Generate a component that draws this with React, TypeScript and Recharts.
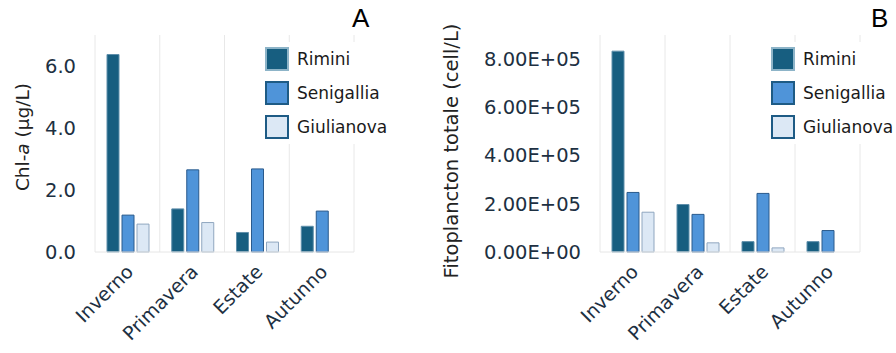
import { Bar, BarChart, CartesianGrid, XAxis, YAxis } from 'recharts';

const seasons = ['Inverno', 'Primavera', 'Estate', 'Autunno'];
const sites = ['Rimini', 'Senigallia', 'Giulianova'];

// Chl-a (µg/L), one array per site, in season order
const chlRimini = [6.37, 1.39, 0.63, 0.83];
const chlSenigallia = [1.19, 2.65, 2.68, 1.32];
const chlGiulianova = [0.9, 0.95, 0.32, null];

// total phytoplankton (cell/L)
const fitoRimini = [833000, 197000, 43000, 43000];
const fitoSenigallia = [247000, 156000, 243000, 89000];
const fitoGiulianova = [165000, 38000, 17000, null];

const chlTicks = [0, 2, 4, 6];
const fitoTicks = [0, 200000, 400000, 600000, 800000];

const FONT = '"DejaVu Sans", Verdana, sans-serif';
const TICK_COLOR = '#1d3042';

const barStyles = [
  { fill: '#175e80', stroke: '#5f8fab', legendStroke: '#8db4c8' },
  { fill: '#4f94d9', stroke: '#2a5a8c', legendStroke: '#1e5b85' },
  { fill: '#dce8f5', stroke: '#8fa6bf', legendStroke: '#1e5b85' },
];

const buildRows = (a: (number | null)[], b: (number | null)[], c: (number | null)[]) =>
  seasons.map((season, i) => ({ season, Rimini: a[i], Senigallia: b[i], Giulianova: c[i] }));

const chlData = buildRows(chlRimini, chlSenigallia, chlGiulianova);
const fitoData = buildRows(fitoRimini, fitoSenigallia, fitoGiulianova);

const sciFormat = (v: number) => {
  const [m, e] = v.toExponential(2).split('e');
  const exp = parseInt(e, 10);
  const sign = exp < 0 ? '-' : '+';
  return `${m}E${sign}${String(Math.abs(exp)).padStart(2, '0')}`;
};

const SeasonTick = ({ x, y, payload }: any) => (
  <text
    transform={`translate(${x + 7},${y + 13}) rotate(-45)`}
    textAnchor="end"
    fontSize={19}
    fontFamily={FONT}
    fill={TICK_COLOR}
  >
    {payload.value}
  </text>
);

const LegendBox = ({ left }: { left: number }) => (
  <div
    style={{
      position: 'absolute',
      left,
      top: 42,
      background: '#fff',
      fontFamily: FONT,
      fontSize: 17,
      color: '#1a1a1a',
      paddingRight: 2,
    }}
  >
    {sites.map((s, i) => (
      <div key={s} style={{ display: 'flex', alignItems: 'center', height: 34 }}>
        <div
          style={{
            width: 20,
            height: 20,
            background: barStyles[i].fill,
            border: `2px solid ${barStyles[i].legendStroke}`,
            marginRight: 8,
          }}
        />
        <span>{s}</span>
      </div>
    ))}
  </div>
);

const boundaryLines = ({ offset }: any) =>
  seasons.concat(['']).map((_, i) => offset.left + (i * offset.width) / seasons.length);

type PanelProps = {
  data: any[];
  width: number;
  yWidth: number;
  marginLeft: number;
  marginRight: number;
  domain: [number, number];
  ticks: number[];
  fmt: (v: number) => string;
  ylabel: React.ReactNode;
  ylabelX: number;
  ylabelY: number;
  ylabelSize: number;
  letter: string;
  letterX: number;
};

const Panel = (p: PanelProps) => (
  <div style={{ position: 'relative', width: p.width, height: 353 }}>
    <BarChart
      width={p.width}
      height={353}
      data={p.data}
      margin={{ top: 35, right: p.marginRight, bottom: 21, left: p.marginLeft }}
      barGap={3}
      barCategoryGap={12}
    >
      <CartesianGrid horizontal={false} stroke="#e8e8e8" verticalCoordinatesGenerator={boundaryLines} />
      <XAxis
        dataKey="season"
        height={80}
        tickLine={false}
        axisLine={{ stroke: '#e6e6e6' }}
        tick={<SeasonTick />}
        interval={0}
      />
      <YAxis
        width={p.yWidth}
        domain={p.domain}
        ticks={p.ticks}
        tickFormatter={p.fmt}
        axisLine={false}
        tickLine={false}
        tick={{ fontSize: 19.5, fontFamily: FONT, fill: TICK_COLOR }}
        tickMargin={13}
      />
      {sites.map((s, i) => (
        <Bar
          key={s}
          dataKey={s}
          fill={barStyles[i].fill}
          stroke={barStyles[i].stroke}
          strokeWidth={1}
          isAnimationActive={false}
        />
      ))}
    </BarChart>
    <LegendBox left={p.width - p.marginRight - 89} />
    <div
      style={{
        position: 'absolute',
        left: p.ylabelX,
        top: p.ylabelY,
        transform: 'translate(-50%, -50%) rotate(-90deg)',
        whiteSpace: 'nowrap',
        fontFamily: FONT,
        fontSize: p.ylabelSize,
        color: '#222',
      }}
    >
      {p.ylabel}
    </div>
    <div
      style={{
        position: 'absolute',
        left: p.letterX,
        top: 3,
        fontFamily: '"Liberation Sans", Arial, sans-serif',
        fontSize: 26,
        color: '#000',
      }}
    >
      {p.letter}
    </div>
  </div>
);

export default function App() {
  return (
    <div style={{ position: 'absolute', left: 0, top: 0, width: 896, height: 353, background: '#fff' }}>
      <div style={{ position: 'absolute', left: 0, top: 0 }}>
        <Panel
          data={chlData}
          width={400}
          yWidth={60}
          marginLeft={35}
          marginRight={46}
          domain={[0, 7]}
          ticks={chlTicks}
          fmt={(v) => v.toFixed(1)}
          ylabel={
            <span>
              Chl-<i>a</i> (µg/L)
            </span>
          }
          ylabelX={22}
          ylabelY={137}
          ylabelSize={18.5}
          letter="A"
          letterX={352}
        />
      </div>
      <div style={{ position: 'absolute', left: 440, top: 0 }}>
        <Panel
          data={fitoData}
          width={456}
          yWidth={110}
          marginLeft={50}
          marginRight={36}
          domain={[0, 900000]}
          ticks={fitoTicks}
          fmt={sciFormat}
          ylabel={<span>Fitoplancton totale (cell/L)</span>}
          ylabelX={11}
          ylabelY={151}
          ylabelSize={19.5}
          letter="B"
          letterX={431}
        />
      </div>
    </div>
  );
}
